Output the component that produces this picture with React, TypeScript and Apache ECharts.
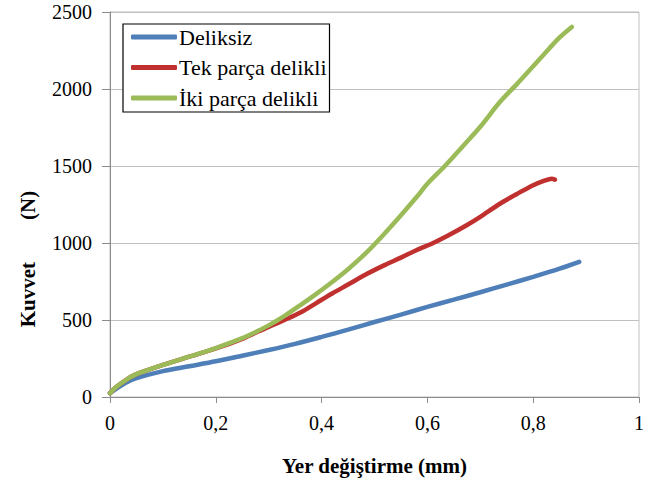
import React, { useEffect, useRef } from "react";
import * as echarts from "echarts";

const seriesNames = ["Deliksiz", "Tek parça delikli", "İki parça delikli"];
const seriesColors = ["#4F7FB8", "#C0302E", "#9BBB59"];

const deliksiz: [number, number][] = [
  [0, 25], [0.01, 50], [0.03, 92], [0.05, 122], [0.1, 168], [0.15, 200],
  [0.2, 232], [0.25, 268], [0.3, 305], [0.35, 345], [0.4, 390], [0.45, 437],
  [0.5, 487], [0.55, 535], [0.6, 585], [0.65, 632], [0.7, 680], [0.75, 730],
  [0.8, 780], [0.85, 833], [0.887, 877],
];

const tekParca: [number, number][] = [
  [0, 25], [0.01, 60], [0.03, 110], [0.05, 148], [0.1, 208], [0.15, 262],
  [0.2, 315], [0.25, 378], [0.28, 425], [0.3, 455], [0.33, 500], [0.36, 548],
  [0.39, 610], [0.42, 672], [0.45, 730], [0.486, 800], [0.52, 858],
  [0.55, 905], [0.58, 955], [0.611, 1000], [0.64, 1050], [0.675, 1117],
  [0.7, 1170], [0.737, 1255], [0.77, 1320], [0.8, 1375], [0.82, 1403],
  [0.835, 1418], [0.841, 1412],
];

const ikiParca: [number, number][] = [
  [0, 25], [0.01, 60], [0.03, 110], [0.05, 148], [0.1, 208], [0.15, 262],
  [0.2, 318], [0.25, 382], [0.28, 430], [0.3, 465], [0.33, 527], [0.36, 597],
  [0.39, 670], [0.42, 747], [0.45, 830], [0.486, 942], [0.52, 1065],
  [0.55, 1180], [0.58, 1300], [0.6, 1385], [0.633, 1500], [0.67, 1640],
  [0.7, 1755], [0.737, 1915], [0.77, 2035], [0.8, 2148], [0.83, 2262],
  [0.85, 2335], [0.873, 2403],
];

const xAxisTitle = "Yer değiştirme (mm)";
const yAxisTitle = "Kuvvet        (N)";

const FONT = "Times New Roman";

export default function App() {
  const ref = useRef<HTMLDivElement>(null);
  useEffect(() => {
    if (!ref.current) return;
    const chart = echarts.init(ref.current, undefined, { renderer: "svg" });
    const datasets = [deliksiz, tekParca, ikiParca];
    chart.setOption({
      animation: false,
      backgroundColor: "#ffffff",
      textStyle: { fontFamily: FONT },
      grid: {
        left: 110,
        right: 15,
        top: 12,
        bottom: 84,
        show: true,
        borderColor: "#bfbfbf",
        borderWidth: 1,
      },
      graphic: [
        {
          type: "text",
          x: 28,
          y: 259,
          rotation: Math.PI / 2,
          style: {
            text: yAxisTitle,
            fontFamily: FONT,
            fontSize: 21,
            fontWeight: "bold",
            fill: "#000",
            align: "center",
            verticalAlign: "middle",
          },
        },
      ],
      legend: {
        show: true,
        orient: "vertical",
        left: 123,
        top: 24,
        backgroundColor: "#ffffff",
        borderColor: "#000000",
        borderWidth: 1.2,
        borderRadius: 0,
        padding: [1, 3, 2, 8],
        itemGap: 6.5,
        itemWidth: 46,
        itemHeight: 5,
        icon: "roundRect",
        textStyle: {
          fontFamily: FONT,
          fontSize: 22,
          color: "#000",
          lineHeight: 24,
          padding: [0, 0, 0, -3],
        },
        data: seriesNames,
      },
      xAxis: {
        type: "value",
        min: 0,
        max: 1,
        interval: 0.2,
        name: xAxisTitle,
        nameLocation: "middle",
        nameGap: 58,
        nameTextStyle: { fontFamily: FONT, fontSize: 21, fontWeight: "bold", color: "#000" },
        axisLine: { show: true, lineStyle: { color: "#8c8c8c", width: 1 } },
        axisTick: { show: true, length: 6, lineStyle: { color: "#8c8c8c" } },
        axisLabel: {
          fontFamily: FONT,
          fontSize: 20,
          color: "#000",
          margin: 16,
          formatter: (v: number) => String(Number(v.toFixed(1))).replace(".", ","),
        },
        splitLine: { show: false },
      },
      yAxis: {
        type: "value",
        min: 0,
        max: 2500,
        interval: 500,
        axisLine: { show: true, lineStyle: { color: "#8c8c8c", width: 1 } },
        axisTick: { show: true, length: 8, lineStyle: { color: "#8c8c8c" } },
        axisLabel: {
          fontFamily: FONT,
          fontSize: 20,
          color: "#000",
          margin: 18,
          formatter: (v: number) => String(Math.round(v)),
        },
        splitLine: { show: true, lineStyle: { color: "#c0c0c0", width: 1 } },
      },
      series: seriesNames.map((name, i) => ({
        name,
        type: "line",
        data: datasets[i],
        showSymbol: false,
        smooth: 0.3,
        color: seriesColors[i],
        lineStyle: { width: 4.5, color: seriesColors[i], cap: "round" },
        z: 2 + i,
      })),
    });
    return () => chart.dispose();
  }, []);
  return (
    <div
      ref={ref}
      style={{ position: "fixed", left: 0, top: 0, width: 654, height: 481 }}
    />
  );
}
